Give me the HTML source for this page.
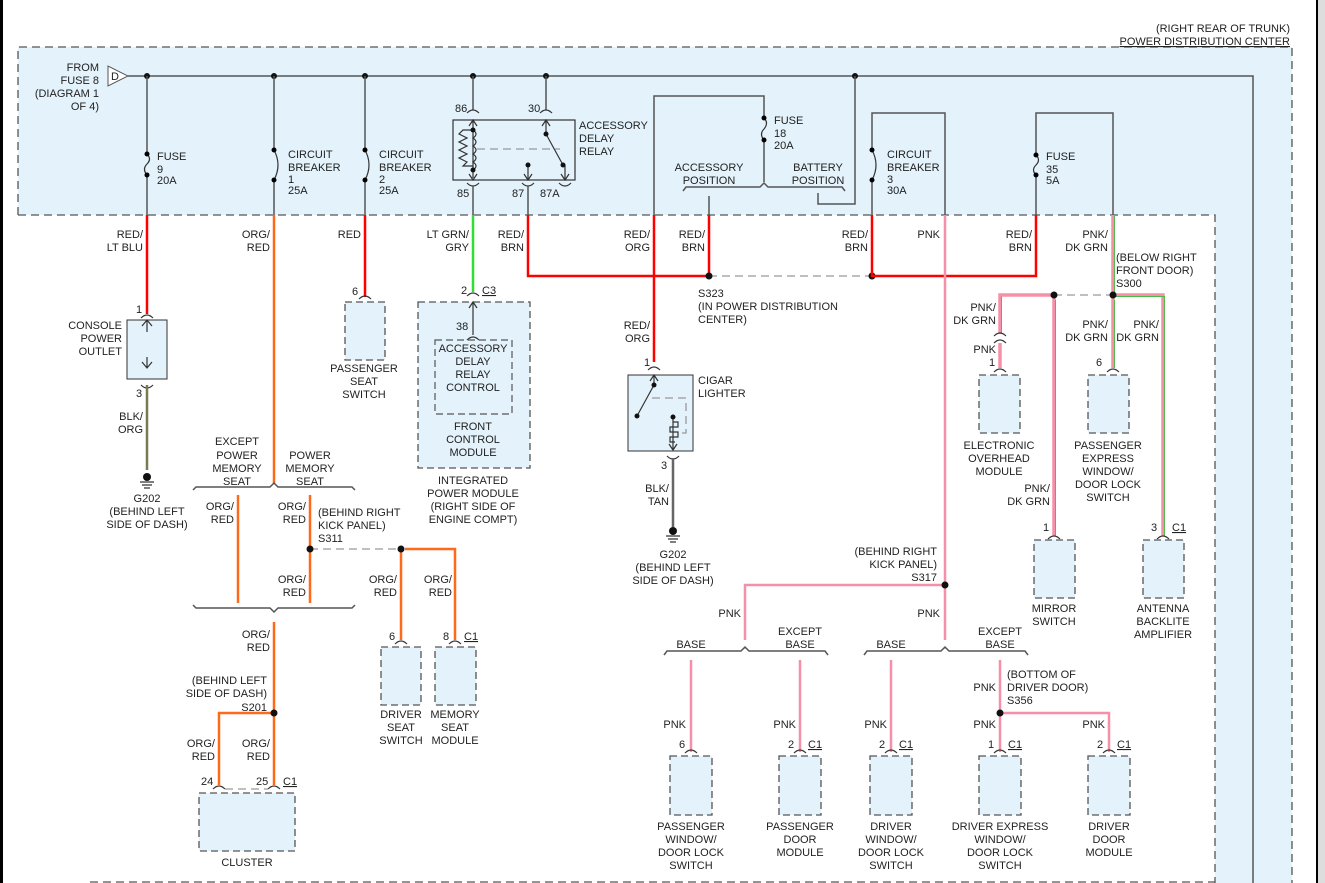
<!DOCTYPE html>
<html><head><meta charset="utf-8"><style>
body{margin:0;background:#fff}
svg{display:block}
text{font-family:"Liberation Sans",sans-serif;font-size:11px;fill:#222}
.r{text-anchor:end}.m{text-anchor:middle}
.g{stroke:#555;stroke-width:1.5;fill:none}
.red{stroke:#f00;stroke-width:2.5;fill:none}
.org{stroke:#ff6a1a;stroke-width:2.5;fill:none}
.pnk{stroke:#f590a8;stroke-width:2.5;fill:none}
.pg{stroke:#f590a8;stroke-width:3.5;fill:none}
.grn{stroke:#33dd33;stroke-width:2.5;fill:none}
.dash{stroke:#555;stroke-width:1.3;stroke-dasharray:8,5;fill:none}
.ldash{stroke:#999;stroke-width:1.3;stroke-dasharray:8,5;fill:none}
.box{fill:#e3f2fb;stroke:#555;stroke-width:1.3;stroke-dasharray:7,4}
.c{fill:none;stroke:#333;stroke-width:1.2}
</style></head><body>
<svg width="1325" height="883" viewBox="0 0 1325 883" xmlns="http://www.w3.org/2000/svg">
<rect x="1318" y="0" width="7" height="883" fill="#ddd"/>
<line x1="1.5" y1="0" x2="1.5" y2="883" stroke="#000" stroke-width="3"/>
<line x1="1317" y1="0" x2="1317" y2="883" stroke="#000" stroke-width="2"/>
<polygon points="18,47 1292,47 1292,883 1215,883 1215,215 18,215" fill="#e3f2fb"/>
<path class="dash" d="M18,215 V47 H1292 V883 M18,215 H1215 V883 M90,882 H1215"/>
<text class="r" x="1290" y="32">(RIGHT REAR OF TRUNK)</text>
<text class="r" x="1290" y="45" text-decoration="underline">POWER DISTRIBUTION CENTER</text>
<path class="g" d="M128,76 H1253 V883"/>
<polygon points="108,66 108,86 128,76" fill="#fff" stroke="#555"/>
<text x="111" y="80" font-size="10">D</text>
<text class="r" x="99" y="71">FROM</text><text class="r" x="99" y="84">FUSE 8</text><text class="r" x="99" y="97">(DIAGRAM 1</text><text class="r" x="99" y="110">OF 4)</text>
<g fill="#111"><circle cx="147" cy="76" r="3"/><circle cx="274" cy="76" r="3"/><circle cx="365" cy="76" r="3"/><circle cx="473" cy="76" r="3"/><circle cx="546" cy="76" r="3"/><circle cx="855" cy="76" r="3"/></g>
<path class="g" d="M147,76 V154 M147,175 V215"/>
<path class="c" d="M147,154 q5,5 0,10 q-5,5 0,11"/>
<circle cx="147" cy="154" r="2.5"/><circle cx="147" cy="175" r="2.5"/>
<text x="157" y="160">FUSE</text><text x="157" y="173">9</text><text x="157" y="184">20A</text>
<path class="red" d="M147,215 V314"/>
<text class="r" x="143" y="238">RED/</text><text class="r" x="143" y="251">LT BLU</text>
<text x="136" y="313">1</text>
<rect x="127" y="320" width="40" height="59" fill="#e3f2fb" stroke="#333"/>
<path class="c" d="M141,318 q6,-6 12,0 M147,320 V332 M142,326 l5,-6 5,6 M147,357 V368 M142,362 l5,6 5,-6 M141,385 q6,6 12,0"/>
<text x="136" y="397">3</text>
<path d="M147,385 V470" stroke="#7a7a50" stroke-width="2.5"/>
<text class="r" x="143" y="420">BLK/</text><text class="r" x="143" y="433">ORG</text>
<circle cx="147" cy="477" r="4" fill="#111"/><path class="c" d="M140,482 h14 M142,485 h10 M144,488 h6"/>
<text class="r" x="122" y="329">CONSOLE</text><text class="r" x="122" y="342">POWER</text><text class="r" x="122" y="355">OUTLET</text>
<text class="m" x="147" y="502">G202</text><text class="m" x="147" y="515">(BEHIND LEFT</text><text class="m" x="147" y="528">SIDE OF DASH)</text>
<path class="g" d="M274,76 V150 M274,180 V215"/>
<path class="c" d="M274,150 q8,15 0,30"/><circle cx="274" cy="150" r="2.5"/><circle cx="274" cy="180" r="2.5"/>
<text x="288" y="158">CIRCUIT</text><text x="288" y="171">BREAKER</text><text x="288" y="183">1</text><text x="288" y="194">25A</text>
<path class="org" d="M274,215 V484"/>
<text class="r" x="270" y="238">ORG/</text><text class="r" x="270" y="251">RED</text>
<text class="m" x="237" y="445">EXCEPT</text><text class="m" x="237" y="459">POWER</text><text class="m" x="237" y="472">MEMORY</text><text class="m" x="237" y="485">SEAT</text>
<text class="m" x="310" y="459">POWER</text><text class="m" x="310" y="472">MEMORY</text><text class="m" x="310" y="485">SEAT</text>
<path class="g" stroke-width="1.2" d="M193,490 l3,-3 H270 l4,-4 4,4 H352 l3,3"/>
<path class="org" d="M238,495 V603 M310,495 V603 M401,549 V640 M405,549 H455 V640"/>
<text class="r" x="234" y="510">ORG/</text><text class="r" x="234" y="523">RED</text>
<text class="r" x="306" y="510">ORG/</text><text class="r" x="306" y="523">RED</text>
<text x="318" y="516">(BEHIND RIGHT</text><text x="318" y="529">KICK PANEL)</text><text x="318" y="542">S311</text>
<path class="ldash" d="M310,549 H401"/><circle cx="310" cy="549" r="3.5" fill="#111"/><circle cx="401" cy="549" r="3.5" fill="#111"/>
<text class="r" x="306" y="583">ORG/</text><text class="r" x="306" y="596">RED</text>
<text class="r" x="397" y="583">ORG/</text><text class="r" x="397" y="596">RED</text>
<text class="r" x="452" y="583">ORG/</text><text class="r" x="452" y="596">RED</text>
<path class="g" stroke-width="1.2" d="M193,605 l3,3 H270 l4,4 4,-4 H352 l3,-3"/>
<path class="org" d="M274,622 V785 M272,713 H219 V785"/>
<text class="r" x="270" y="638">ORG/</text><text class="r" x="270" y="651">RED</text>
<text class="r" x="267" y="684">(BEHIND LEFT</text><text class="r" x="267" y="697">SIDE OF DASH)</text><text class="r" x="267" y="711">S201</text>
<circle cx="274" cy="713" r="3.5" fill="#111"/>
<text class="r" x="215" y="747">ORG/</text><text class="r" x="215" y="760">RED</text>
<text class="r" x="270" y="747">ORG/</text><text class="r" x="270" y="760">RED</text>
<text x="201" y="785">24</text><text x="256" y="785">25</text><text x="283" y="785" text-decoration="underline">C1</text>
<path class="c" d="M213,789 q6,-6 12,0 M268,789 q6,-6 12,0"/><path class="ldash" d="M225,789 H268"/>
<rect class="box" x="199" y="793" width="96" height="58"/>
<text class="m" x="247" y="866">CLUSTER</text>
<path class="c" d="M395,644 q6,-6 12,0 M449,644 q6,-6 12,0"/>
<text x="389" y="640">6</text><text x="443" y="640">8</text><text x="464" y="640" text-decoration="underline">C1</text>
<rect class="box" x="381" y="647" width="40" height="58"/><rect class="box" x="435" y="647" width="41" height="58"/>
<text class="m" x="401" y="718">DRIVER</text><text class="m" x="401" y="731">SEAT</text><text class="m" x="401" y="744">SWITCH</text>
<text class="m" x="455" y="718">MEMORY</text><text class="m" x="455" y="731">SEAT</text><text class="m" x="455" y="744">MODULE</text>
<path class="g" d="M365,76 V150 M365,180 V215"/>
<path class="c" d="M365,150 q8,15 0,30"/><circle cx="365" cy="150" r="2.5"/><circle cx="365" cy="180" r="2.5"/>
<text x="379" y="158">CIRCUIT</text><text x="379" y="171">BREAKER</text><text x="379" y="183">2</text><text x="379" y="194">25A</text>
<path class="red" d="M365,215 V297"/>
<text class="r" x="361" y="238">RED</text>
<text x="352" y="295">6</text><path class="c" d="M359,299 q6,-6 12,0"/>
<rect class="box" x="345" y="302" width="40" height="58"/>
<text class="m" x="364" y="372">PASSENGER</text><text class="m" x="364" y="385">SEAT</text><text class="m" x="364" y="398">SWITCH</text>
<path class="g" d="M473,76 V110 M546,76 V110"/>
<path class="c" d="M467,113 q6,-6 12,0 M540,113 q6,-6 12,0"/>
<text x="455" y="112">86</text><text x="528" y="112">30</text>
<rect x="453" y="120" width="122" height="60" fill="none" stroke="#333" stroke-width="1.2"/>
<path class="c" d="M473,120 V178 M469,126 l4,-6 4,6 M469,174 l4,6 4,-6 M546,120 V134 M542,126 l4,-6 4,6 M546,134 L563,165 M565,165 V180 M561,174 l4,6 4,-6 M528,165 V180 M524,174 l4,6 4,-6"/>
<path class="c" d="M473,130 H463 l-4,4 8,4 -8,4 8,4 -8,4 8,4 -8,4 8,4 -4,4 H473 M473,130 q6,4 0,8 q6,4 0,8 q6,4 0,8 q6,4 0,8 q6,4 0,8"/>
<path class="ldash" d="M477,149 H560"/>
<g fill="#111"><circle cx="473" cy="130" r="2.5"/><circle cx="473" cy="170" r="2.5"/><circle cx="546" cy="134" r="2.5"/><circle cx="563" cy="165" r="2.5"/><circle cx="528" cy="165" r="2.5"/></g>
<text x="579" y="129">ACCESSORY</text><text x="579" y="142">DELAY</text><text x="579" y="155">RELAY</text>
<path class="c" d="M467,183 q6,6 12,0 M522,183 q6,6 12,0 M559,183 q6,6 12,0"/>
<text x="457" y="197">85</text><text x="512" y="197">87</text><text x="540" y="197">87A</text>
<path class="g" d="M473,186 V215 M528,186 V215"/>
<path class="grn" d="M473,215 V292"/>
<text class="r" x="469" y="238">LT GRN/</text><text class="r" x="469" y="251">GRY</text>
<text x="461" y="294">2</text><text x="482" y="294" text-decoration="underline">C3</text>
<path class="c" d="M467,296 q6,-6 12,0"/>
<rect class="box" x="418" y="302" width="112" height="166"/>
<path class="c" d="M473,302 V335 M469,308 l4,-6 4,6 M467,340 q6,-6 12,0"/>
<text x="456" y="330">38</text>
<rect x="435" y="340" width="77" height="74" fill="none" stroke="#555" stroke-width="1.2" stroke-dasharray="7,4"/>
<text class="m" x="473" y="352">ACCESSORY</text><text class="m" x="473" y="365">DELAY</text><text class="m" x="473" y="378">RELAY</text><text class="m" x="473" y="391">CONTROL</text>
<text class="m" x="473" y="430">FRONT</text><text class="m" x="473" y="443">CONTROL</text><text class="m" x="473" y="456">MODULE</text>
<text class="m" x="473" y="484">INTEGRATED</text><text class="m" x="473" y="497">POWER MODULE</text><text class="m" x="473" y="510">(RIGHT SIDE OF</text><text class="m" x="473" y="523">ENGINE COMPT)</text>
<path class="red" d="M528,215 V276 H708"/>
<text class="r" x="524" y="238">RED/</text><text class="r" x="524" y="251">BRN</text>
<path class="g" d="M654,215 V96 H764 V118 M764,140 V182"/>
<path class="c" d="M764,118 q5,5 0,11 q-5,5 0,11"/><circle cx="764" cy="118" r="2.5"/><circle cx="764" cy="140" r="2.5"/>
<text x="774" y="124">FUSE</text><text x="774" y="137">18</text><text x="774" y="149">20A</text>
<path class="g" stroke-width="1.2" d="M683,191 l3,-4 H760 l4,-4 4,4 H842 l3,4"/>
<text class="m" x="709" y="171">ACCESSORY</text><text class="m" x="709" y="184">POSITION</text>
<text class="m" x="818" y="171">BATTERY</text><text class="m" x="818" y="184">POSITION</text>
<path class="g" d="M709,196 V215 M818,193 V204 H855 V76"/>
<path class="red" d="M709,215 V276"/>
<text class="r" x="705" y="238">RED/</text><text class="r" x="705" y="251">BRN</text>
<path class="red" d="M654,215 V362"/>
<text class="r" x="650" y="238">RED/</text><text class="r" x="650" y="251">ORG</text>
<text class="r" x="650" y="329">RED/</text><text class="r" x="650" y="342">ORG</text>
<path class="ldash" d="M709,276 H872"/><circle cx="709" cy="276" r="3.5" fill="#111"/><circle cx="872" cy="276" r="3.5" fill="#111"/>
<text x="698" y="297">S323</text><text x="698" y="310">(IN POWER DISTRIBUTION</text><text x="698" y="323">CENTER)</text>
<text x="644" y="366">1</text><path class="c" d="M648,370 q6,-6 12,0"/>
<rect x="628" y="375" width="65" height="76" fill="#e3f2fb" stroke="#333"/>
<path class="c" d="M654,375 V385 M650,381 l4,-6 4,6 M654,385 L637,416 M673,417 V450 M669,444 l4,6 4,-6"/>
<path class="c" d="M673,422 h5 v5 h-8 v5 h8 v5 h-8 v5 h5"/>
<path class="ldash" d="M652,398 H686 V433 H680"/>
<g fill="#111"><circle cx="654" cy="385" r="2.5"/><circle cx="637" cy="416" r="2.5"/><circle cx="673" cy="417" r="2.5"/></g>
<text x="698" y="384">CIGAR</text><text x="698" y="397">LIGHTER</text>
<path class="c" d="M667,456 q6,6 12,0"/><text x="661" y="469">3</text>
<path d="M673,458 V527" stroke="#666" stroke-width="2.5"/>
<text class="r" x="669" y="492">BLK/</text><text class="r" x="669" y="505">TAN</text>
<circle cx="673" cy="531" r="4" fill="#111"/><path class="c" d="M666,536 h14 M668,539 h10 M670,542 h6"/>
<text class="m" x="673" y="558">G202</text><text class="m" x="673" y="571">(BEHIND LEFT</text><text class="m" x="673" y="584">SIDE OF DASH)</text>
<path class="g" d="M872,215 V180 M872,150 V113 H945 V215"/>
<path class="c" d="M872,150 q8,15 0,30"/><circle cx="872" cy="150" r="2.5"/><circle cx="872" cy="180" r="2.5"/>
<text x="887" y="158">CIRCUIT</text><text x="887" y="171">BREAKER</text><text x="887" y="183">3</text><text x="887" y="194">30A</text>
<path class="red" d="M872,215 V276 H1036 V215"/>
<text class="r" x="868" y="238">RED/</text><text class="r" x="868" y="251">BRN</text>
<text class="r" x="1032" y="238">RED/</text><text class="r" x="1032" y="251">BRN</text>
<path class="g" d="M1036,215 V175 M1036,155 V113 H1113 V215"/>
<path class="c" d="M1036,155 q5,5 0,10 q-5,5 0,10"/><circle cx="1036" cy="155" r="2.5"/><circle cx="1036" cy="175" r="2.5"/>
<text x="1046" y="160">FUSE</text><text x="1046" y="173">35</text><text x="1046" y="184">5A</text>
<path class="pnk" d="M945,215 V640 M945,585 H745 V640"/>
<text class="r" x="940" y="238">PNK</text>
<path class="pg" d="M1113,215 V368 M1113,295 H1163 V536 M1054,295 H1000 V334 M1054,295 V536 M1000,343 V368"/>
<path d="M1114.5,215 V295 M1114.5,296.5 H1164.5 V536 M1055.5,300 V536 M1001.5,296.5 V334 M1114.5,300 V368" stroke="#4b4" stroke-width="0.9" fill="none"/>
<path class="ldash" d="M1054,295 H1113"/><circle cx="1054" cy="295" r="3.5" fill="#111"/><circle cx="1113" cy="295" r="3.5" fill="#111"/>
<text class="r" x="1108" y="238">PNK/</text><text class="r" x="1108" y="251">DK GRN</text>
<text x="1116" y="261">(BELOW RIGHT</text><text x="1116" y="274">FRONT DOOR)</text><text x="1116" y="287">S300</text>
<text class="r" x="996" y="311">PNK/</text><text class="r" x="996" y="324">DK GRN</text>
<path class="c" d="M994,336 q6,-6 12,0 M994,343 q6,-6 12,0"/>
<text class="r" x="996" y="353">PNK</text><text x="989" y="366">1</text>
<path class="c" d="M994,372 q6,-6 12,0 M1107,372 q6,-6 12,0"/>
<rect class="box" x="979" y="375" width="41" height="58"/>
<text class="m" x="999" y="449">ELECTRONIC</text><text class="m" x="999" y="462">OVERHEAD</text><text class="m" x="999" y="475">MODULE</text>
<text class="r" x="1108" y="328">PNK/</text><text class="r" x="1108" y="341">DK GRN</text>
<text class="r" x="1159" y="328">PNK/</text><text class="r" x="1159" y="341">DK GRN</text>
<text x="1096" y="366">6</text>
<rect class="box" x="1088" y="375" width="41" height="58"/>
<text class="m" x="1108" y="449">PASSENGER</text><text class="m" x="1108" y="462">EXPRESS</text><text class="m" x="1108" y="475">WINDOW/</text><text class="m" x="1108" y="488">DOOR LOCK</text><text class="m" x="1108" y="501">SWITCH</text>
<text class="r" x="1050" y="492">PNK/</text><text class="r" x="1050" y="505">DK GRN</text>
<text x="1043" y="531">1</text><text x="1151" y="531">3</text><text x="1172" y="531" text-decoration="underline">C1</text>
<path class="c" d="M1048,539 q6,-6 12,0 M1157,539 q6,-6 12,0"/>
<rect class="box" x="1034" y="540" width="41" height="58"/><rect class="box" x="1143" y="540" width="41" height="58"/>
<text class="m" x="1054" y="612">MIRROR</text><text class="m" x="1054" y="625">SWITCH</text>
<text class="m" x="1163" y="612">ANTENNA</text><text class="m" x="1163" y="625">BACKLITE</text><text class="m" x="1163" y="638">AMPLIFIER</text>
<circle cx="945" cy="585" r="3.5" fill="#111"/>
<text class="r" x="937" y="555">(BEHIND RIGHT</text><text class="r" x="937" y="568">KICK PANEL)</text><text class="r" x="937" y="581">S317</text>
<text class="r" x="741" y="617">PNK</text><text class="r" x="940" y="617">PNK</text>
<path class="g" stroke-width="1.2" d="M664,655 l3,-4 H741 l4,-4 4,4 H825 l3,4 M864,655 l3,-4 H941 l4,-4 4,4 H1025 l3,4"/>
<text class="m" x="691" y="648">BASE</text><text class="m" x="800" y="635">EXCEPT</text><text class="m" x="800" y="648">BASE</text>
<text class="m" x="891" y="648">BASE</text><text class="m" x="1000" y="635">EXCEPT</text><text class="m" x="1000" y="648">BASE</text>
<path class="pnk" d="M691,660 V752 M800,660 V752 M891,660 V752 M1000,660 V752 M1000,713 H1109 V752"/>
<circle cx="1000" cy="713" r="3.5" fill="#111"/>
<text class="r" x="996" y="691">PNK</text>
<text x="1007" y="678">(BOTTOM OF</text><text x="1007" y="691">DRIVER DOOR)</text><text x="1007" y="704">S356</text>
<text class="r" x="686" y="728">PNK</text><text class="r" x="796" y="728">PNK</text><text class="r" x="887" y="728">PNK</text><text class="r" x="996" y="728">PNK</text><text class="r" x="1105" y="728">PNK</text>
<text x="679" y="748">6</text>
<text x="788" y="748">2</text><text x="808" y="748" text-decoration="underline">C1</text>
<text x="879" y="748">2</text><text x="899" y="748" text-decoration="underline">C1</text>
<text x="988" y="748">1</text><text x="1008" y="748" text-decoration="underline">C1</text>
<text x="1097" y="748">2</text><text x="1117" y="748" text-decoration="underline">C1</text>
<path class="c" d="M685,753 q6,-6 12,0 M794,753 q6,-6 12,0 M885,753 q6,-6 12,0 M994,753 q6,-6 12,0 M1103,753 q6,-6 12,0"/>
<rect class="box" x="670" y="756" width="42" height="59"/><rect class="box" x="779" y="756" width="42" height="59"/><rect class="box" x="870" y="756" width="42" height="59"/><rect class="box" x="979" y="756" width="42" height="59"/><rect class="box" x="1088" y="756" width="42" height="59"/>
<text class="m" x="691" y="830">PASSENGER</text><text class="m" x="691" y="843">WINDOW/</text><text class="m" x="691" y="856">DOOR LOCK</text><text class="m" x="691" y="869">SWITCH</text>
<text class="m" x="800" y="830">PASSENGER</text><text class="m" x="800" y="843">DOOR</text><text class="m" x="800" y="856">MODULE</text>
<text class="m" x="891" y="830">DRIVER</text><text class="m" x="891" y="843">WINDOW/</text><text class="m" x="891" y="856">DOOR LOCK</text><text class="m" x="891" y="869">SWITCH</text>
<text class="m" x="1000" y="830">DRIVER EXPRESS</text><text class="m" x="1000" y="843">WINDOW/</text><text class="m" x="1000" y="856">DOOR LOCK</text><text class="m" x="1000" y="869">SWITCH</text>
<text class="m" x="1109" y="830">DRIVER</text><text class="m" x="1109" y="843">DOOR</text><text class="m" x="1109" y="856">MODULE</text>
</svg>
</body></html>
